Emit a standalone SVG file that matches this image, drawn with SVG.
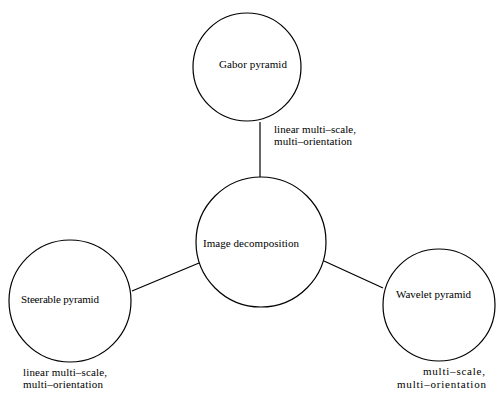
<svg xmlns="http://www.w3.org/2000/svg" width="496" height="394" viewBox="0 0 496 394">
<style>
.n{fill:#fff;stroke:#000;stroke-width:1.2}
.c{stroke:#000;stroke-width:1.2;fill:none}
text{font-family:"Liberation Serif",serif;font-size:11px;fill:#000}
</style>
<rect width="496" height="394" fill="#fff"/>
<g id="connectors">
<line class="c" x1="260" y1="122" x2="260" y2="177"/>
<line class="c" x1="132" y1="291" x2="199" y2="263"/>
<line class="c" x1="324" y1="261" x2="383" y2="288"/>
</g>
<g id="gabor">
<circle class="n" cx="247" cy="67" r="54"/>
<text x="219" y="68" textLength="68">Gabor pyramid</text>
</g>
<g id="image">
<circle class="n" cx="261" cy="242" r="65"/>
<text x="203" y="247" textLength="96">Image decomposition</text>
</g>
<g id="steerable">
<circle class="n" cx="70" cy="301" r="61"/>
<text x="21" y="303" textLength="78">Steerable pyramid</text>
</g>
<g id="wavelet">
<circle class="n" cx="439" cy="305" r="56"/>
<text x="396" y="298" textLength="75">Wavelet pyramid</text>
</g>
<g id="labels">
<text x="274" y="133" textLength="82">linear multi–scale,</text>
<text x="274" y="145" textLength="78">multi–orientation</text>
<text x="23" y="376" textLength="84">linear multi–scale,</text>
<text x="23" y="388" textLength="80">multi–orientation</text>
<text x="423" y="375" textLength="62">multi–scale,</text>
<text x="397" y="388" textLength="89">multi–orientation</text>
</g>
</svg>
